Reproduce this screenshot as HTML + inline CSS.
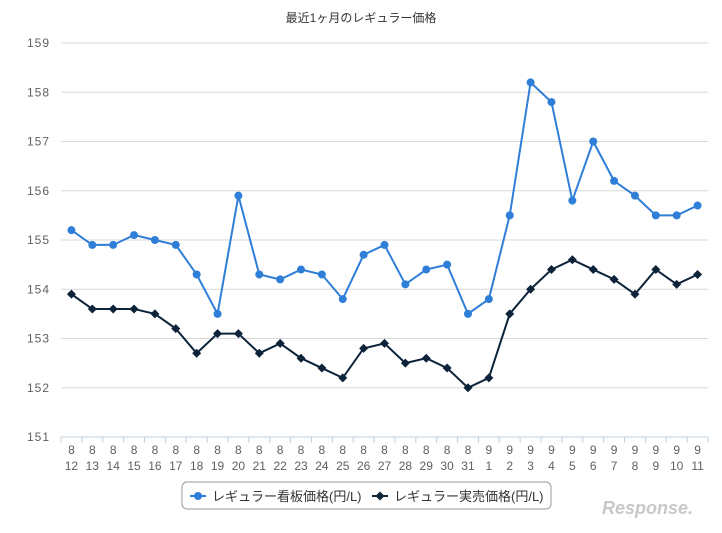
<!DOCTYPE html>
<html><head><meta charset="utf-8"><style>
body{margin:0;background:#fff;width:722px;height:528px;overflow:hidden}
svg text{font-family:"Liberation Sans","Noto Sans CJK JP",sans-serif}
</style></head><body>
<svg id="c" width="722" height="528" xmlns="http://www.w3.org/2000/svg">
<text x="361" y="22" text-anchor="middle" font-size="12" fill="#333">最近1ヶ月のレギュラー価格</text>
</svg>
<script>
const s=document.getElementById('c'),NS='http://www.w3.org/2000/svg';
function el(t,a,txt){const e=document.createElementNS(NS,t);for(const k in a)e.setAttribute(k,a[k]);if(txt!=null)e.textContent=txt;s.appendChild(e);return e;}
const x0=61,x1=708,n=31,w=(x1-x0)/n;
const Y=v=>43+(159-v)*49.25;
for(let v=151;v<=159;v++){
 el('line',{x1:x0,x2:x1,y1:Y(v),y2:Y(v),stroke:v==151?'#c0d0e0':'#d8d8d8','stroke-width':1});
 el('text',{x:50,y:Y(v)+4,'text-anchor':'end','font-size':12,fill:'#606060','letter-spacing':'1'},v);
}
const lab=[];for(let d=12;d<=31;d++)lab.push(['8',d]);for(let d=1;d<=11;d++)lab.push(['9',d]);
for(let i=0;i<=n;i++)el('line',{x1:x0+i*w,x2:x0+i*w,y1:437,y2:443,stroke:'#c0d0e0'});
lab.forEach((l,i)=>{const cx=x0+w*(i+.5);
 el('text',{x:cx,y:454,'text-anchor':'middle','font-size':12,fill:'#606060'},l[0]);
 el('text',{x:cx,y:470,'text-anchor':'middle','font-size':12,fill:'#606060'},l[1]);});
const b=[155.2,154.9,154.9,155.1,155.0,154.9,154.3,153.5,155.9,154.3,154.2,154.4,154.3,153.8,154.7,154.9,154.1,154.4,154.5,153.5,153.8,155.5,158.2,157.8,155.8,157.0,156.2,155.9,155.5,155.5,155.7];
const k=[153.9,153.6,153.6,153.6,153.5,153.2,152.7,153.1,153.1,152.7,152.9,152.6,152.4,152.2,152.8,152.9,152.5,152.6,152.4,152.0,152.2,153.5,154.0,154.4,154.6,154.4,154.2,153.9,154.4,154.1,154.3];
function series(d,c,dia){
 el('polyline',{points:d.map((v,i)=>(x0+w*(i+.5))+','+Y(v)).join(' '),fill:'none',stroke:c,'stroke-width':2});
 d.forEach((v,i)=>{const cx=x0+w*(i+.5),cy=Y(v);
  if(dia)el('path',{d:`M${cx} ${cy-4.5}L${cx+4.5} ${cy}L${cx} ${cy+4.5}L${cx-4.5} ${cy}Z`,fill:c});
  else el('circle',{cx,cy,r:4,fill:c});});
}
series(b,'#2f7ed8',false);series(k,'#0d233a',true);
el('rect',{x:182,y:482,width:369,height:27,rx:5,fill:'#fff',stroke:'#999'});
el('line',{x1:190,x2:206,y1:496,y2:496,stroke:'#2f7ed8','stroke-width':2});
el('circle',{cx:198,cy:496,r:4,fill:'#2f7ed8'});
el('text',{x:212,y:501,'font-size':13,fill:'#333'},'レギュラー看板価格(円/L)');
el('line',{x1:372,x2:388,y1:496,y2:496,stroke:'#0d233a','stroke-width':2});
el('path',{d:'M380 491.5L384.5 496L380 500.5L375.5 496Z',fill:'#0d233a'});
el('text',{x:394,y:501,'font-size':13,fill:'#333'},'レギュラー実売価格(円/L)');
el('text',{x:602,y:514,'font-size':18,'font-style':'italic','font-weight':'bold',fill:'#c8c8c8'},'Response.');
</script>
</body></html>
